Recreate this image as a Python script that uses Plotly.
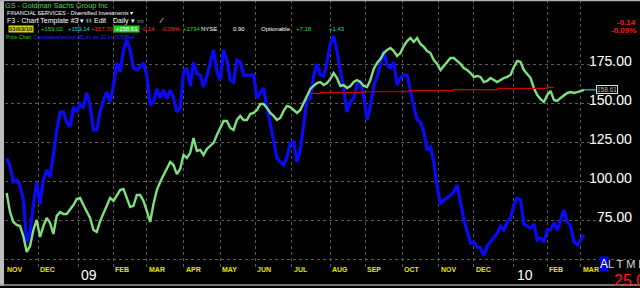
import pandas as pd
import plotly.graph_objects as go

# ---------------- data ----------------
START = "2008-11-04"          # first plotted session, sampled every 2 sessions
price = [
    92.5, 80.3, 73.9, 72.0, 71.3, 64.9, 54.7, 58.5, 68.8, 75.2,
    64.3, 71.3, 76.5, 73.3, 66.2, 77.8, 80.3, 79.0, 79.0, 81.6,
    84.8, 88.6, 89.3, 84.8, 80.3, 76.5, 68.8, 67.5, 74.5, 79.7,
    84.8, 89.3, 87.4, 90.6, 94.4, 95.1, 89.9, 83.5, 84.2, 91.2,
    91.2, 87.4, 80.9, 73.9, 85.4, 94.4, 99.5, 104.0, 107.9, 112.4,
    110.4, 104.6, 107.9, 116.9, 115.0, 118.2, 127.7, 119.4, 120.1, 116.9,
    120.7, 122.7, 124.6, 129.7, 134.2, 138.6, 138.6, 134.2, 132.9, 139.3,
    141.9, 139.3, 139.3, 143.1, 143.8, 145.7, 149.5, 149.5, 147.0, 143.8,
    141.9, 139.3, 140.6, 145.1, 148.3, 147.6, 145.7, 143.8, 145.7, 150.2,
    154.7, 159.2, 161.1, 163.0, 163.6, 161.7, 163.0, 165.6, 169.4, 166.2,
    161.1, 161.7, 159.8, 161.1, 163.6, 164.9, 163.6, 161.1, 160.4, 164.9,
    172.0, 175.8, 178.4, 182.2, 184.2, 185.4, 183.5, 180.3, 182.2, 186.7,
    189.9, 191.8, 189.3, 191.8, 188.0, 186.1, 183.5, 182.2, 177.7, 175.2,
    171.3, 173.9, 175.8, 179.0, 179.0, 177.1, 175.2, 172.6, 171.3, 169.4,
    166.9, 167.5, 166.9, 163.6, 164.3, 166.2, 164.9, 163.6, 164.9, 166.2,
    166.9, 168.1, 173.3, 177.1, 176.5, 171.3, 168.8, 166.2, 159.8, 155.3,
    152.7, 150.8, 155.3, 157.9, 152.1, 151.5, 153.4, 155.3, 156.6, 157.2,
    156.6, 157.2, 158.0, 158.61,
]
indicator = [
    114.9, 109.8, 99.5, 100.8, 97.0, 88.0, 61.1, 67.5, 84.8, 99.5,
    85.4, 100.8, 107.2, 102.7, 116.9, 132.9, 144.4, 144.4, 138.0, 134.8,
    147.6, 144.4, 149.5, 147.6, 156.6, 148.9, 132.9, 132.9, 144.4, 152.1,
    157.2, 150.8, 161.7, 175.8, 170.0, 184.2, 190.6, 184.2, 172.6, 171.3,
    173.3, 175.8, 167.5, 148.9, 150.8, 159.2, 153.4, 158.5, 152.7, 158.5,
    153.4, 144.4, 147.0, 170.0, 172.6, 161.1, 176.4, 168.8, 168.1, 160.4,
    167.5, 176.4, 184.2, 170.0, 164.9, 184.2, 177.7, 164.9, 163.6, 177.7,
    176.4, 168.1, 168.1, 168.1, 168.1, 153.4, 156.6, 159.8, 147.6, 136.1,
    126.5, 114.9, 112.4, 110.4, 115.6, 124.5, 125.2, 112.4, 120.1, 135.4,
    152.1, 153.4, 167.5, 175.2, 168.1, 167.5, 176.4, 188.0, 193.1, 182.9,
    171.3, 158.5, 144.4, 150.8, 153.4, 161.7, 163.6, 154.7, 139.3, 148.3,
    161.1, 166.8, 175.2, 183.5, 174.5, 172.6, 176.4, 161.7, 166.2, 168.1,
    168.1, 157.2, 148.3, 139.3, 138.0, 131.6, 120.1, 122.0, 112.4, 96.3,
    85.4, 88.0, 89.3, 91.2, 93.1, 97.6, 85.4, 75.2, 68.1, 60.4,
    61.1, 57.9, 57.3, 52.1, 58.5, 61.1, 64.3, 66.8, 71.3, 68.8,
    73.9, 76.5, 84.8, 89.3, 88.0, 72.6, 71.3, 70.0, 72.6, 62.4,
    63.6, 61.1, 68.8, 68.8, 73.3, 68.8, 75.2, 81.6, 73.9, 71.3,
    61.1, 59.2, 62.4, 65.6,
]
red_dates = ["2009-07-16", "2009-07-24", "2009-08-31", "2009-10-07",
             "2009-11-13", "2009-12-21", "2010-02-01", "2010-02-05"]
red_levels = [156.4, 157.0, 157.4, 158.1, 158.8, 159.6, 160.2, 160.2]

month_dates = ["2008-11-03", "2008-12-01", "2009-01-02", "2009-02-02", "2009-03-02",
               "2009-04-01", "2009-05-01", "2009-06-01", "2009-07-01", "2009-08-03",
               "2009-09-01", "2009-10-01", "2009-11-02", "2009-12-01", "2010-01-04",
               "2010-02-01", "2010-03-01"]
month_labels = ["NOV", "DEC", "09", "FEB", "MAR", "APR", "MAY", "JUN", "JUL", "AUG",
                "SEP", "OCT", "NOV", "DEC", "10", "FEB", "MAR"]
y_labels = [175, 150, 125, 100, 75]
grid_levels = [50, 75, 100, 125, 150, 175]

dates = pd.date_range(START, periods=len(price), freq="2B")

# ---------------- layout helpers (pixel -> paper) ----------------
W, H = 640, 288
ML, MR, MT, MB = 5, 6, 0, 20
PW, PH = W - ML - MR, H - MT - MB


def fx(px):
    return (px - ML) / PW


def fy(py):
    return (MT + PH - py) / PH


NARROW = "Liberation Sans Narrow, Arial Narrow, Liberation Sans, Arial, sans-serif"
SANS = "Liberation Sans, Arial, sans-serif"

fig = go.Figure()

fig.add_trace(go.Scatter(x=dates, y=indicator, mode="lines",
                         line=dict(color="#0A0AF8", width=3.2), hoverinfo="skip"))
fig.add_trace(go.Scatter(x=dates, y=price, mode="lines",
                         line=dict(color="#7EE07E", width=2.4), hoverinfo="skip"))
fig.add_trace(go.Scatter(x=pd.to_datetime(red_dates), y=red_levels, mode="lines",
                         line=dict(color="#D00000", width=1.2, shape="hv"), hoverinfo="skip"))
tag_date = dates[-1] + pd.offsets.BDay(7)
fig.add_trace(go.Scatter(x=[dates[-1], tag_date], y=[price[-1], price[-1]], mode="lines",
                         line=dict(color="#19D3E6", width=1.2), hoverinfo="skip",
                         cliponaxis=False))

ann = []
# y-axis labels
for v in y_labels:
    ann.append(dict(x=1, xref="paper", y=v, yref="y", xanchor="right", yanchor="middle",
                    yshift=3, text=f"{v:.2f}", showarrow=False,
                    font=dict(family=SANS, size=14, color="white")))
# price tag
ann.append(dict(x=tag_date, xref="x", y=price[-1], yref="y", xanchor="left", yanchor="middle",
                text=f"{price[-1]:.2f}", showarrow=False, bgcolor="black",
                bordercolor="#E0E0E0", borderwidth=1, borderpad=0,
                font=dict(family=NARROW, size=6.5, color="#B8B8B8")))
# x-axis labels
for d, lab in zip(month_dates, month_labels):
    if lab.isdigit():
        ann.append(dict(x=d, xref="x", y=fy(275), yref="paper", xanchor="left", yanchor="middle",
                        xshift=1, text=lab, showarrow=False,
                        font=dict(family=SANS, size=14, color="white")))
    else:
        ann.append(dict(x=d, xref="x", y=fy(269), yref="paper", xanchor="left", yanchor="middle",
                        xshift=0, text=f"<b>{lab}</b>", showarrow=False,
                        font=dict(family=NARROW, size=7, color="#E6E600")))


def txt(px, py, s, color="white", size=6, bg=None, anchor="left", family=NARROW):
    d = dict(x=fx(px), xref="paper", y=fy(py), yref="paper", xanchor=anchor, yanchor="middle",
             text=s, showarrow=False, font=dict(family=family, size=size, color=color),
             borderpad=0)
    if bg:
        d["bgcolor"] = bg
    ann.append(d)


# header
txt(4, 5, "GS - Goldman Sachs Group Inc", "#4FD84F", 7.3)
txt(6, 13, "FINANCIAL SERVICES - Diversified Investments ▾", "white", 5.6)
txt(6, 21, "F3 - Chart Template #3 ▾", "white", 7)
txt(85, 21, "▮▮", "#808080", 4.5)
txt(93, 21, "Edit", "white", 7)
txt(112, 21, "Daily ▾", "white", 7)
txt(136, 21, "○○", "white", 5.5)
txt(158, 21, "⁄", "white", 8)
row = 29
txt(8, row, "<b>03/03/10</b>", "#202000", 6, bg="#D8D800")
txt(40, row, "+159.02", "#22DD22", 6)
txt(67, row, "+159.14", "#22D8D8", 6)
txt(90, row, "+157.70", "#FF2A2A", 6)
txt(113, row, " +158.61 ", "white", 6, bg="#22D022")
txt(140, row, "-0.14", "#FF2A2A", 6)
txt(160, row, "-0.09%", "#FF2A2A", 6)
txt(182, row, "+1794", "#22DD22", 6)
txt(200, row, "NYSE", "white", 6)
txt(232, row, "0.90", "white", 6)
txt(260, row, "Optionable", "white", 6)
txt(295, row, "+7.18", "#22DD22", 6)
txt(328, row, "+1.43", "#22D8D8", 6)
txt(5, 37, "Price Chart :", "#22CC22", 5)
txt(33, 37, "Cumulative(avr(vol,35),trv stv 20.1+ (1.5)Bbol", "#2A2AFF", 5)
# top-right change
txt(637, 23, "<b>-0.14</b>", "#FF1A1A", 8, anchor="right")
txt(637, 31, "<b>-0.09%</b>", "#FF1A1A", 8, anchor="right")
# bottom-right
txt(599, 264, "A", "white", 12, bg="#0000EE", family=SANS)
txt(607, 264, "L T M L", "#D8D8D8", 11, family=SANS)
txt(613, 280, "25.0", "#FF1A1A", 16, family=SANS)

shapes = [
    dict(type="rect", xref="paper", yref="paper", x0=fx(0), x1=fx(4), y0=fy(286), y1=fy(0),
         fillcolor="#BEBEBE", line=dict(width=0), layer="above"),
    dict(type="line", xref="paper", yref="paper", x0=fx(0), x1=fx(640), y0=fy(0.5), y1=fy(0.5),
         line=dict(color="#B0B0B0", width=1.5)),
    dict(type="line", xref="paper", yref="paper", x0=fx(0), x1=fx(640), y0=fy(285), y1=fy(285),
         line=dict(color="#9A9A9A", width=1.5)),
]

fig.update_layout(
    width=W, height=H,
    margin=dict(l=ML, r=MR, t=MT, b=MB, pad=0),
    paper_bgcolor="black", plot_bgcolor="black",
    showlegend=False,
    annotations=ann, shapes=shapes,
    xaxis=dict(range=["2008-11-03", "2010-04-14"],
               rangebreaks=[dict(bounds=["sat", "mon"])],
               tickvals=month_dates[1:], showticklabels=False, ticks="",
               showgrid=True, gridcolor="#5A5A5A", griddash="dot", gridwidth=1,
               zeroline=False, showline=False, fixedrange=True),
    yaxis=dict(range=[44.4, 216.2], side="right",
               tickvals=grid_levels, showticklabels=False, ticks="",
               showgrid=True, gridcolor="#5A5A5A", griddash="dot", gridwidth=1,
               zeroline=False, showline=False, fixedrange=True),
)

fig.write_html("out.html", config={"displayModeBar": False})
